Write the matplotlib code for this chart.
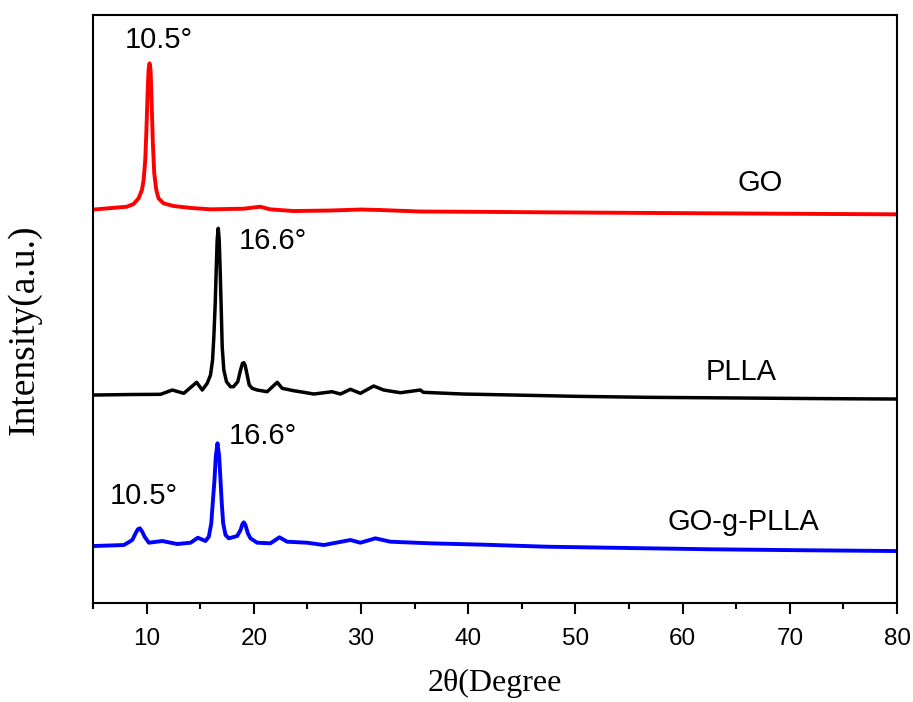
import matplotlib.pyplot as plt
from matplotlib.ticker import MultipleLocator

# XRD patterns, stacked (intensity already includes the vertical offset)
go_2theta = [5.06, 8.16, 8.78, 9.25, 9.56, 9.72, 9.87, 9.97, 10.09, 10.18, 10.27,
             10.37, 10.46, 10.58, 10.71, 10.90, 11.11, 11.58, 12.51, 14.2, 15.93,
             19.04, 20.59, 21.52, 23.70, 27.1, 30.0, 31.8, 35.5, 41.0, 47.3,
             55.0, 62.8, 71.0, 79.8]
go_intensity = [393.5, 396.3, 399, 404.7, 413, 423, 443, 469.7, 509.7, 533, 539.7,
                533, 503, 459.7, 429.7, 413, 404.7, 399.7, 397, 395, 393.7,
                394.3, 396.3, 393.7, 392, 392.5, 393.5, 393, 391.5, 391.2, 390.7,
                390.2, 389.7, 389.2, 388.7]

plla_2theta = [5.08, 8.5, 11.30, 12.39, 13.47, 14.66, 15.19, 15.65, 15.96, 16.15,
               16.27, 16.40, 16.49, 16.58, 16.68, 16.77, 16.86, 16.96, 17.05, 17.20,
               17.45, 17.82, 18.10, 18.50, 18.76, 18.94, 19.06, 19.19, 19.38, 19.57,
               19.85, 20.31, 21.24, 22.18, 22.64, 23.72, 24.66, 25.59, 27.30, 28.08,
               29.01, 29.94, 31.18, 32.11, 33.67, 35.53, 35.81, 39.5, 44.20, 50.0,
               56.69, 63.0, 69.09, 74.5, 79.80]
plla_intensity = [208, 208.5, 208.7, 213, 209.7, 220.7, 213, 219.7, 228, 243,
                  266.3, 300, 333, 363, 374.7, 363, 333, 293, 256.3, 233,
                  221.3, 216.3, 216.3, 221.3, 233, 239.7, 240.3, 237.7, 228, 218,
                  214.7, 213, 211.3, 220.7, 214.7, 212.3, 210.7, 209, 211.3, 209,
                  213.7, 209.7, 217, 213, 210.3, 213, 210.7, 209, 208, 206.7,
                  205.7, 205.2, 204.7, 204.3, 204]

gogplla_2theta = [5.08, 7.88, 8.66, 8.97, 9.18, 9.37, 9.59, 9.81, 10.21, 11.46,
                  12.86, 14.10, 14.78, 15.49, 15.80, 16.03, 16.21, 16.33, 16.45, 16.61,
                  16.77, 16.89, 17.01, 17.14, 17.36, 17.67, 18.45, 18.76, 18.94, 19.06,
                  19.22, 19.44, 19.69, 20.31, 21.55, 22.39, 23.11, 24.97, 26.52, 29.01,
                  29.94, 31.34, 32.74, 36.47, 41.5, 47.34, 55.0, 62.84, 71.0, 79.80]
gogplla_intensity = [57, 58, 63, 69.7, 73.7, 74.7, 71.3, 66.3, 60.3, 62,
                     59, 60.3, 65.3, 62, 66.3, 79.7, 106.3, 123, 146.3, 159.7,
                     146.3, 123, 99.7, 79.7, 68, 64.7, 67, 73, 79, 80.7,
                     78, 69.7, 64.7, 60.3, 59.7, 65.7, 61.3, 60.3, 58, 63,
                     60.3, 64.7, 61.3, 59.7, 58.3, 56.3, 55, 53.7, 52.8, 52]

fig = plt.figure(figsize=(9.13, 7.02), dpi=100)
ax = fig.add_axes([0.1019, 0.141, 0.8806, 0.8376])

ax.plot(go_2theta, go_intensity, color='#ff0000', lw=2.8)
ax.plot(plla_2theta, plla_intensity, color='black', lw=2.5)
ax.plot(gogplla_2theta, gogplla_intensity, color='#0000ff', lw=2.8)

ax.set_xlim(5, 80)
ax.set_ylim(0, 588)

# peak labels and sample names
sans = 'Liberation Sans'
ax.text(11.11, 563, '10.5°', fontsize=21, family=sans, ha='center', va='center')
ax.text(21.76, 362, '16.6°', fontsize=21, family=sans, ha='center', va='center')
ax.text(20.81, 167, '16.6°', fontsize=21, family=sans, ha='center', va='center')
ax.text(9.71, 107, '10.5°', fontsize=21, family=sans, ha='center', va='center')
ax.text(67.2, 420, 'GO', fontsize=21, family=sans, ha='center', va='center')
ax.text(65.44, 231, 'PLLA', fontsize=21, family=sans, ha='center', va='center')
ax.text(65.63, 81, 'GO-g-PLLA', fontsize=21, family=sans, ha='center', va='center')

ax.xaxis.set_major_locator(MultipleLocator(10))
ax.xaxis.set_minor_locator(MultipleLocator(5))
ax.tick_params(axis='x', which='major', direction='out', length=8, width=1.5,
               labelsize=17.5, pad=10)
ax.tick_params(axis='x', which='minor', direction='out', length=4.5, width=1.5)
ax.set_xticks([10, 20, 30, 40, 50, 60, 70, 80])
for lab in ax.get_xticklabels():
    lab.set_family(sans)
ax.set_yticks([])

for s in ax.spines.values():
    s.set_linewidth(1.5)

ax.set_xlabel('2θ(Degree', fontsize=23, family='Liberation Serif')
ax.set_ylabel('Intensity(a.u.)', fontsize=27, family='Liberation Serif')
ax.xaxis.set_label_coords(0.5, -0.112)
ax.yaxis.set_label_coords(-0.064, 0.464)

fig.savefig('out.png', dpi=100)
